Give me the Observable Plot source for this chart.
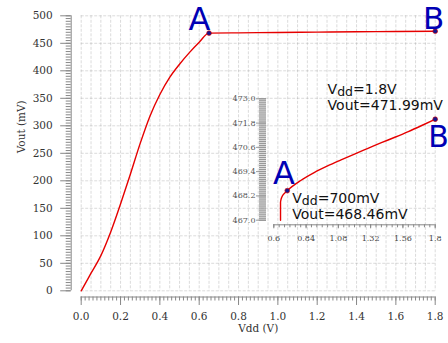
<!DOCTYPE html>
<html><head><meta charset="utf-8">
<script src="https://cdn.jsdelivr.net/npm/d3@7"></script>
<script src="https://cdn.jsdelivr.net/npm/@observablehq/plot@0.6"></script>
<style>
body{margin:0;background:#fff}
#wrap{position:relative;width:448px;height:343px;overflow:hidden}
#wrap svg{position:absolute;left:0;top:0;background:transparent}
</style></head><body><div id="wrap"></div>
<script>
// ---- main curve (Vdd in V, Vout in mV)
const mainVdd  = [0, 0.05, 0.1, 0.15, 0.2, 0.25, 0.3, 0.35, 0.4, 0.45, 0.5, 0.55, 0.6, 0.65, 0.8, 1.0, 1.2, 1.4, 1.6, 1.8];
const mainVout = [0, 32, 64, 107, 158, 212, 268, 318, 357, 388, 412, 433, 452, 468.5, 469.0, 469.7, 470.3, 470.9, 471.4, 472.0];
// ---- inset (zoom) curve
const insetVdd  = [0.65, 0.65, 0.66, 0.68, 0.70, 0.8, 0.9, 1.0, 1.1, 1.2, 1.3, 1.4, 1.5, 1.6, 1.7, 1.8];
const insetVout = [467.0, 467.9, 468.15, 468.33, 468.46, 468.96, 469.35, 469.68, 469.98, 470.27, 470.55, 470.83, 471.1, 471.38, 471.68, 471.99];
// ---- markers
const markerLabels = ["A", "B"];
const mainMarkerVdd = [0.65, 1.8];
const mainMarkerVout = [468.5, 472.0];
const insetMarkerVdd = [0.7, 1.8];
const insetMarkerVout = [468.46, 471.99];
const annotA = ["Vdd=700mV", "Vout=468.46mV"];
const annotB = ["Vdd=1.8V", "Vout=471.99mV"];
// ---- ticks
const xTicks = [0, 0.2, 0.4, 0.6, 0.8, 1.0, 1.2, 1.4, 1.6, 1.8];
const yTicks = [0, 50, 100, 150, 200, 250, 300, 350, 400, 450, 500];
const insetXTicks = [0.6, 0.84, 1.08, 1.32, 1.56, 1.8];
const insetYTicks = [467.0, 468.2, 469.4, 470.6, 471.8, 473.0];
const xGrid = d3.range(0, 1.8001, 0.05);
const xMinor = d3.range(0, 1.8001, 0.02);
const yMinor = d3.range(0, 500.01, 5);
const insetXMinor = d3.range(0.6, 1.8001, 0.04);
const insetYMinor = d3.range(467, 473.001, 0.1);

const RED = "#e60000", BLUE = "#0000b4", DOT = "#14148c", AX = "#888", LBL = "#333";
const W = 448, H = 343;
const sans = "DejaVu Sans", serif = "DejaVu Serif";

const mainLine = mainVdd.map((v, i) => ({x: v, y: mainVout[i]}));
const insetLine = insetVdd.map((v, i) => ({x: v, y: insetVout[i]}));
const mainMk = markerLabels.map((l, i) => ({l, x: mainMarkerVdd[i], y: mainMarkerVout[i]}));
const insetMk = markerLabels.map((l, i) => ({l, x: insetMarkerVdd[i], y: insetMarkerVout[i]}));

const main = Plot.plot({
  width: W, height: H,
  marginLeft: 80.7, marginRight: 13.3, marginTop: 15.3, marginBottom: 52.7,
  style: {background: "transparent", fontFamily: serif, fontSize: "10.5px", color: LBL},
  x: {domain: [0, 1.8]},
  y: {domain: [0, 500]},
  marks: [
    Plot.gridX(xGrid, {stroke: "#999", strokeOpacity: 0.35, strokeDasharray: "3,1.5"}),
    Plot.gridY(yTicks, {stroke: "#999", strokeOpacity: 0.35, strokeDasharray: "3,1.5"}),
    Plot.ruleX([0], {dx: -10, stroke: AX}),
    Plot.axisY(yMinor, {dx: -10, tickSize: 5, stroke: AX, fill: "none", label: null}),
    Plot.axisY(yTicks, {dx: -10, tickSize: 10.5, tickPadding: 8, stroke: AX, fill: LBL, label: null}),
    Plot.ruleY([0], {dy: 6.2, stroke: AX}),
    Plot.axisX(xMinor, {dy: 6.2, tickSize: 4, stroke: AX, fill: "none", label: null}),
    Plot.axisX(xTicks, {dy: 6.2, tickSize: 8.5, tickPadding: 7, stroke: AX, fill: LBL, label: null, tickFormat: d => d.toFixed(1)}),
    Plot.text(["Vdd (V)"], {frameAnchor: "bottom", dy: 41, fill: LBL, fontSize: 10.5}),
    Plot.text(["Vout (mV)"], {frameAnchor: "left", rotate: -90, dx: -59.7, fill: LBL, fontSize: 10.5}),
    Plot.line(mainLine, {x: "x", y: "y", stroke: RED, strokeWidth: 1.4, curve: "monotone-x"}),
    Plot.dot(mainMk, {x: "x", y: "y", r: 2.4, fill: DOT, stroke: RED, strokeWidth: 0.6}),
    Plot.text(mainMk.slice(0, 1), {x: "x", y: "y", text: "l", dx: -9.5, dy: -13.2, fontSize: 32, fontFamily: sans, fill: BLUE}),
    Plot.text(mainMk.slice(1), {x: "x", y: "y", text: "l", dx: -1.5, dy: -12.5, fontSize: 31, fontFamily: sans, fill: BLUE})
  ]
});

const inset = Plot.plot({
  width: W, height: H,
  marginLeft: 273.3, marginRight: 13.3, marginTop: 98.3, marginBottom: 123.3,
  style: {background: "transparent", fontFamily: serif, fontSize: "8px", color: "#555"},
  x: {domain: [0.6, 1.8]},
  y: {domain: [467, 473]},
  marks: [
    Plot.axisY(insetYMinor, {dx: -7.3, tickSize: 7, stroke: "#999", strokeWidth: 1.4, fill: "none", label: null}),
    Plot.axisY(insetYTicks, {dx: -7.3, tickSize: 10, tickPadding: 1, stroke: "#999", fill: "#555", label: null, tickFormat: d => d.toFixed(1)}),
    Plot.ruleY([467], {dy: 4.6, stroke: AX}),
    Plot.axisX(insetXMinor, {dy: 4.6, tickSize: 3, stroke: AX, fill: "none", label: null}),
    Plot.axisX(insetXTicks, {dy: 4.6, tickSize: 4, tickPadding: 7, stroke: AX, fill: "#444", label: null, tickFormat: d => String(+d.toFixed(2))}),
    Plot.line(insetLine, {x: "x", y: "y", stroke: RED, strokeWidth: 1.4, curve: "monotone-x"}),
    Plot.dot(insetMk, {x: "x", y: "y", r: 2.4, fill: DOT, stroke: RED, strokeWidth: 0.6}),
    Plot.text(insetMk.slice(0, 1), {x: "x", y: "y", text: "l", dx: -3.3, dy: -16.8, fontSize: 32, fontFamily: sans, fill: BLUE}),
    Plot.text(insetMk.slice(1), {x: "x", y: "y", text: "l", dx: 3.4, dy: 18.2, fontSize: 30, fontFamily: sans, fill: BLUE}),
    Plot.text(insetMk.slice(0, 1), {x: "x", y: "y", text: () => annotA[0], textAnchor: "start", dx: 5, dy: 7.4, fontSize: 14, fontFamily: sans, fill: "#111"}),
    Plot.text(insetMk.slice(0, 1), {x: "x", y: "y", text: () => annotA[1], textAnchor: "start", dx: 5, dy: 24.1, fontSize: 14, fontFamily: sans, fill: "#111"}),
    Plot.text(insetMk.slice(1), {x: "x", y: "y", text: () => annotB[0], textAnchor: "start", dx: -107.6, dy: -30.2, fontSize: 14, fontFamily: sans, fill: "#111"}),
    Plot.text(insetMk.slice(1), {x: "x", y: "y", text: () => annotB[1], textAnchor: "start", dx: -107.6, dy: -13.6, fontSize: 14, fontFamily: sans, fill: "#111"})
  ]
});

// subscript "dd" in Vdd annotations
d3.select(inset).selectAll("text").each(function () {
  const t = this.textContent;
  if (t.startsWith("Vdd=") && this.children.length === 0) {
    const s = d3.select(this);
    s.text(null);
    s.append("tspan").text("V");
    s.append("tspan").attr("font-size", 12.5).attr("dy", 2).text("dd");
    s.append("tspan").attr("dy", -2).text(t.slice(3));
  }
});

const wrap = document.getElementById("wrap");
wrap.appendChild(main);
wrap.appendChild(inset);
</script></body></html>
